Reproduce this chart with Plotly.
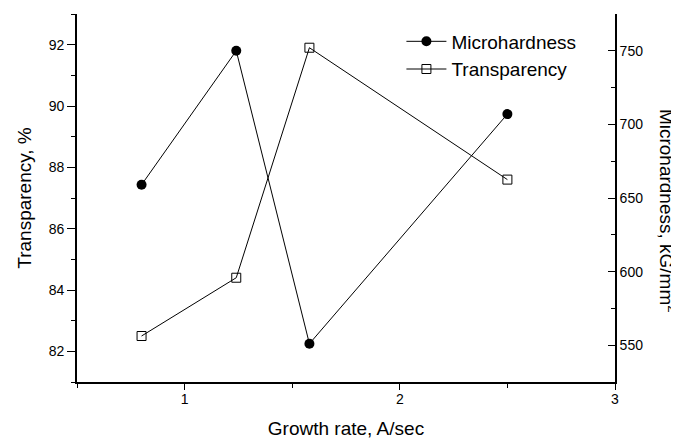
import plotly.graph_objects as go

growth_rate = [0.80, 1.24, 1.58, 2.50]
microhardness = [659, 750, 551, 707]
transparency = [82.5, 84.4, 91.9, 87.6]

x_ticks = [1, 2, 3]
left_ticks = [82, 84, 86, 88, 90, 92]
right_ticks = [550, 600, 650, 700, 750]

FONT = "Liberation Sans, Arial, sans-serif"

fig = go.Figure()
fig.add_trace(go.Scatter(
    x=growth_rate, y=microhardness, name="Microhardness", yaxis="y2",
    mode="lines+markers", line=dict(color="black", width=1),
    marker=dict(symbol="circle", size=10, color="black"),
))
fig.add_trace(go.Scatter(
    x=growth_rate, y=transparency, name="Transparency", yaxis="y",
    mode="lines+markers", line=dict(color="black", width=1),
    marker=dict(symbol="square-open", size=9, color="black", line=dict(width=1)),
))

axis_common = dict(showgrid=False, zeroline=False, showline=True, linecolor="black",
                   linewidth=1.6, tickcolor="black", tickwidth=1.3,
                   tickfont=dict(family=FONT, size=14, color="black"))

fig.update_layout(
    width=671, height=433,
    margin=dict(l=69, r=64, t=6, b=59),
    paper_bgcolor="white", plot_bgcolor="white",
    font=dict(family=FONT, color="black"),
    showlegend=True,
    legend=dict(x=0.603, y=0.977, xanchor="left", yanchor="top",
                bgcolor="rgba(0,0,0,0)", font=dict(family=FONT, size=19),
                itemwidth=40),
    xaxis=dict(range=[0.5, 3], tickvals=x_ticks, ticktext=[str(v) for v in x_ticks],
               ticks="outside", ticklen=6, ticklabelstandoff=-3,
               minor=dict(dtick=0.5, tick0=0, ticks="outside", ticklen=4, tickcolor="black", tickwidth=1.3),
               title=dict(text="Growth rate, A/sec", font=dict(family=FONT, size=19), standoff=16),
               **axis_common),
    xaxis2=dict(range=[0.5, 3], overlaying="x", side="top", anchor="y",
                tickvals=x_ticks, showticklabels=False, ticks="inside", ticklen=7,
                minor=dict(dtick=0.5, tick0=0, ticks="inside", ticklen=4, tickcolor="black", tickwidth=1.3),
                **axis_common),
    yaxis=dict(range=[81, 93], tickvals=left_ticks, ticks="outside", ticklen=8,
               minor=dict(dtick=1, tick0=0, ticks="outside", ticklen=4, tickcolor="black", tickwidth=1.3),
               title=dict(text="Transparency, %", font=dict(family=FONT, size=19), standoff=12),
               **axis_common),
    yaxis2=dict(range=[525, 775], overlaying="y", side="right", anchor="x",
                tickvals=right_ticks, ticks="inside", ticklen=7,
                minor=dict(dtick=25, tick0=0, ticks="inside", ticklen=4, tickcolor="black", tickwidth=1.3),
                **axis_common),
    annotations=[dict(text="Microhardness, kG/mm<sup>2</sup>", textangle=90,
                      xref="paper", yref="paper", x=1.0, y=0.465, xanchor="center", yanchor="middle",
                      xshift=53, showarrow=False, font=dict(family=FONT, size=19, color="black"))],
)

fig.write_html("out.html")
